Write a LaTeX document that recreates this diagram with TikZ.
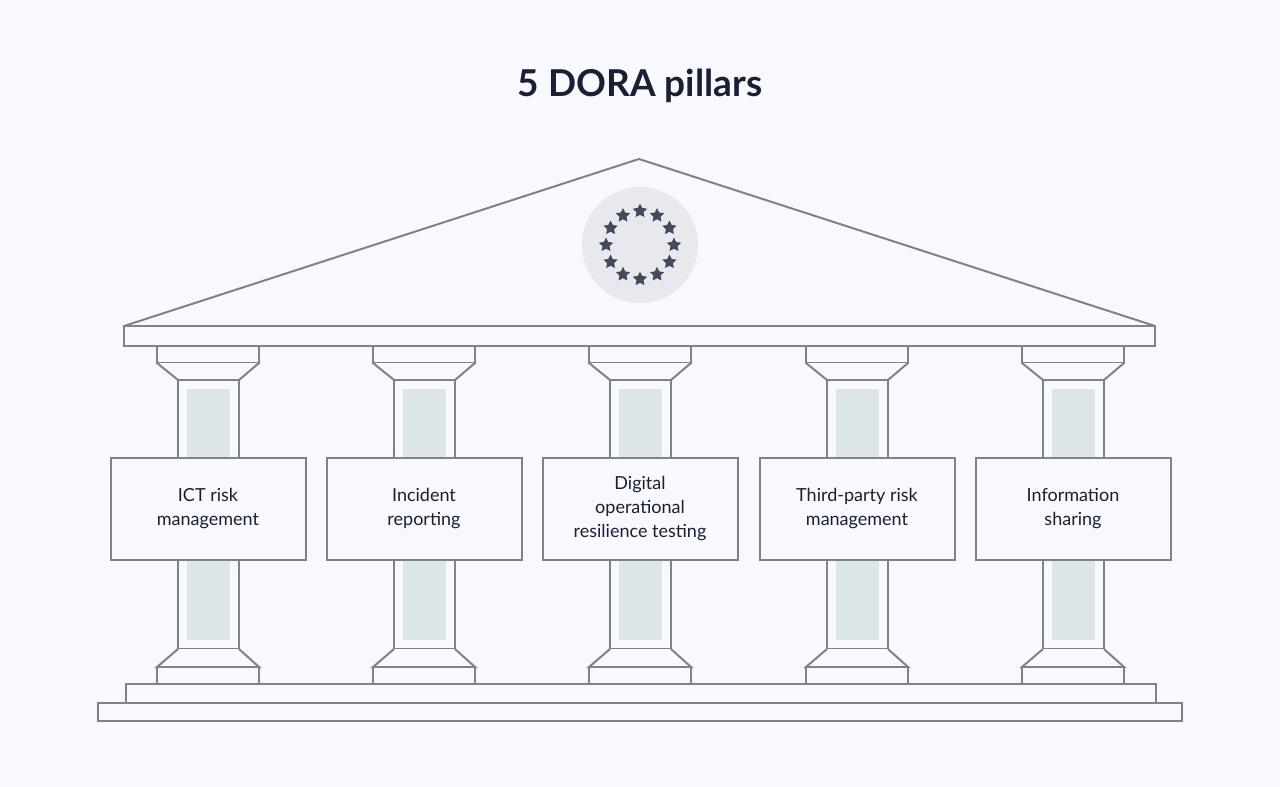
\documentclass[tikz,border=0pt]{standalone}
\usepackage{fontspec}
\setmainfont{Lato}
\usetikzlibrary{shapes.geometric,calc}
\definecolor{bg}{HTML}{F8F9FC}
\definecolor{ln}{HTML}{7E8290}
\definecolor{shaft}{HTML}{DCE6E6}
\definecolor{disc}{HTML}{E8E9EE}
\definecolor{starc}{HTML}{444A5E}
\definecolor{txt}{HTML}{1A1F36}
\begin{document}
\begin{tikzpicture}[x=1pt,y=-1pt,
  part/.style={draw=ln,line width=2pt,fill=bg},
  lbl/.style={part,minimum width=195pt,minimum height=102pt,align=center,font=\fontsize{18}{24}\selectfont,text=txt,inner sep=0pt},
  st/.style={shape=star,star points=5,star point ratio=2,fill=starc,minimum size=15pt,inner sep=0pt}]
\fill[bg] (0,0) rectangle (1280,787);
\useasboundingbox (0,0) rectangle (1280,787);
\node[font=\fontsize{37}{40}\selectfont\bfseries,text=txt] (title) at (640,86) {5 DORA pillars};
% roof
\draw[part,line join=round] (124,326) -- (639,159) -- (1155,326) -- cycle;
\fill[disc] (640,245) circle (58);
\foreach \i in {0,...,11}{\node[st] (s\i) at ($(640,245)+(\i*30:34)$) {};}
\draw[part] (124,326) rectangle (1155,346);
% base
\draw[part] (98,703) rectangle (1182,721);
\draw[part] (126,684) rectangle (1156,703);
\foreach \c/\t [count=\k] in {208/{ICT risk\\management},424/{Incident\\reporting},640/{Digital\\operational\\resilience testing},857/{Third-party risk\\management},1073/{Information\\sharing}}{
  \begin{scope}[xshift=\c]
  \draw[part] (-51,346) rectangle (51,363);
  \draw[part] (-51,363) -- (-30,380) -- (31,380) -- (51,363);
  \draw[part] (-30,380) rectangle (31,649);
  \fill[shaft] (-21,389) rectangle (22,640);
  \draw[part] (-30,649) -- (-51,667) -- (51,667) -- (31,649);
  \draw[part] (-51,667) rectangle (51,684);
  \end{scope}
  \node[lbl] (p\k) at (\c,509) {\t};
}
\end{tikzpicture}
\end{document}
